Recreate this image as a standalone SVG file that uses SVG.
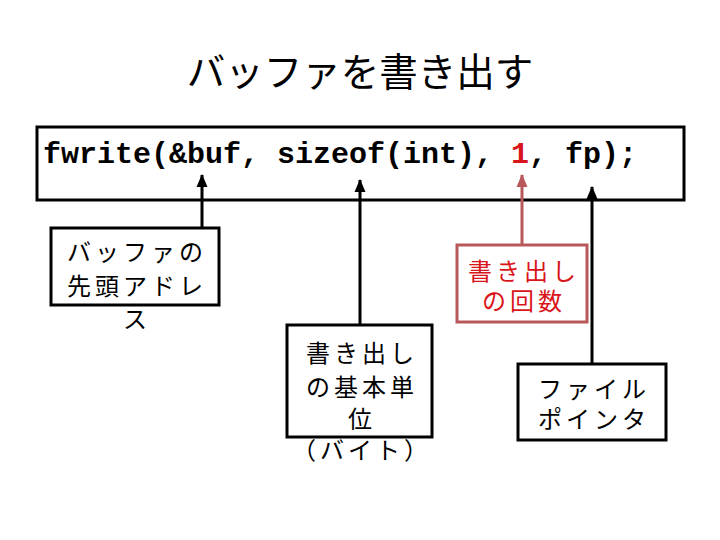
<svg xmlns="http://www.w3.org/2000/svg" width="720" height="540" viewBox="0 0 720 540">
<style>
.box{fill:#fff;stroke:#000;stroke-width:3}
.rbox{fill:#fff;stroke:#b9585a;stroke-width:3}
.jp{font-family:"Noto Sans CJK JP","Noto Sans",sans-serif;font-size:24px;letter-spacing:4px;text-anchor:middle;fill:#000}
.red{fill:#d9141a}
.conn{stroke:#000;stroke-width:3;fill:none}
.rconn{stroke:#b9585a;stroke-width:3;fill:none}
</style>
<defs>
<marker id="ah" markerUnits="userSpaceOnUse" markerWidth="12" markerHeight="14" refX="6" refY="1" orient="0" viewBox="0 0 12 14">
<path d="M6 0 L11.5 13 L0.5 13 Z" fill="#000"/>
</marker>
<marker id="ahr" markerUnits="userSpaceOnUse" markerWidth="12" markerHeight="14" refX="6" refY="1" orient="0" viewBox="0 0 12 14">
<path d="M6 0 L11.5 13 L0.5 13 Z" fill="#b9585a"/>
</marker>
</defs>
<rect width="720" height="540" fill="#fff"/>
<text x="360" y="86" font-family="'Noto Sans CJK JP','Noto Sans',sans-serif" font-size="38.5" text-anchor="middle" fill="#000">バッファを書き出す</text>
<g id="code">
<rect class="box" x="37" y="127" width="647" height="73"/>
<text x="43" y="163" font-family="'Liberation Mono',monospace" font-size="30" font-weight="bold" textLength="594" lengthAdjust="spacingAndGlyphs" fill="#000">fwrite(&amp;buf, sizeof(int), <tspan class="red">1</tspan>, fp);</text>
</g>
<g id="connectors">
<line class="conn" x1="202" y1="228" x2="202" y2="175" marker-end="url(#ah)"/>
<line class="conn" x1="360" y1="325" x2="360" y2="180" marker-end="url(#ah)"/>
<line class="rconn" x1="522" y1="245" x2="522" y2="175" marker-end="url(#ahr)"/>
<line class="conn" x1="592" y1="364" x2="592" y2="187" marker-end="url(#ah)"/>
</g>
<g id="n1">
<rect class="box" x="51" y="228" width="168" height="77"/>
<text class="jp" x="137" y="261">バッファの</text>
<text class="jp" x="137" y="295">先頭アドレ</text>
<text class="jp" x="137" y="328">ス</text>
</g>
<g id="n2">
<rect class="box" x="287" y="325" width="145" height="112"/>
<text class="jp" x="362" y="362">書き出し</text>
<text class="jp" x="362" y="396">の基本単</text>
<text class="jp" x="362" y="428">位</text>
<text class="jp" x="362" y="459">（バイト）</text>
</g>
<g id="n3">
<rect class="rbox" x="457" y="245" width="130" height="77"/>
<text class="jp red" x="524" y="280">書き出し</text>
<text class="jp red" x="524" y="310">の回数</text>
</g>
<g id="n4">
<rect class="box" x="518" y="364" width="148" height="76"/>
<text class="jp" x="594" y="398">ファイル</text>
<text class="jp" x="594" y="428">ポインタ</text>
</g>
</svg>
